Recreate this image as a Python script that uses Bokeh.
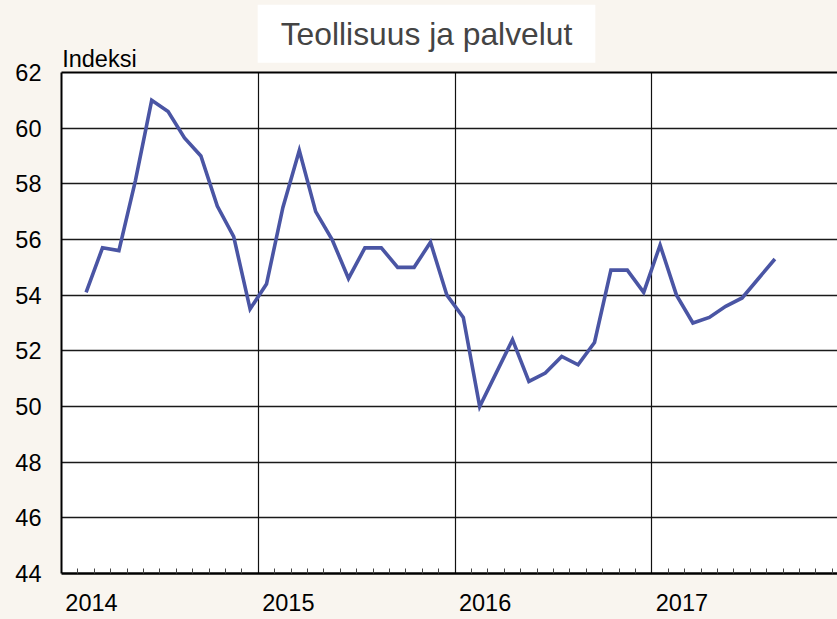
import pandas as pd
from bokeh.plotting import figure
from bokeh.layouts import column
from bokeh.models import (Range1d, FixedTicker, LinearAxis, Label, Grid,
                          ColumnDataSource, CustomJSTickFormatter)
from bokeh.embed import file_html
from bokeh.resources import INLINE

# ---- data ----
title_text = "Teollisuus ja palvelut"
y_label = "Indeksi"
years = ["2014", "2015", "2016", "2017"]
y_ticks = [44, 46, 48, 50, 52, 54, 56, 58, 60, 62]
months = pd.period_range("2014-02", "2017-08", freq="M")
values = [54.1, 55.7, 55.6, 58.1, 61.0, 60.6, 59.65, 59.0, 57.2, 56.1, 53.5,
          54.4, 57.15, 59.2, 57.0, 56.0, 54.6, 55.7, 55.7, 55.0, 55.0, 55.9, 54.0,
          53.2, 50.0, 51.2, 52.4, 50.9, 51.2, 51.8, 51.5, 52.3, 54.9, 54.9, 54.1,
          55.8, 54.0, 53.0, 53.2, 53.6, 53.9, 54.6, 55.3]

CREAM = "#f9f5ef"
LINE = "#4a55a4"
FONT = "Liberation Sans"

x = [(m.year - 2014) * 12 + (m.month - 1) + 0.5 for m in months]
src = ColumnDataSource(dict(x=x, y=values))

W, H = 837, 619
HEAD = 72                      # header strip (title + y label)
OVERLAP = 14                   # chart canvas overlaps the header strip
MONTH_PX = 16.4
LEFT, TOP, BOTTOM = 61, OVERLAP, 46
H_MAIN = H - HEAD + OVERLAP
frame_w = W - LEFT

# ---- header strip (frame aligned with the chart frame) ----
head = figure(width=W, height=HEAD, output_backend="svg", toolbar_location=None,
              x_range=Range1d(0, 1), y_range=Range1d(0, 1),
              x_axis_type=None, y_axis_type=None,
              min_border_left=LEFT, min_border_right=0, min_border_top=0,
              min_border_bottom=0, background_fill_color=CREAM,
              border_fill_color=CREAM, outline_line_color=None)
head.grid.visible = False

# screen units: origin at the frame's bottom-left corner, y upwards
head.add_layout(Label(x=0.7, y=HEAD - 58.4, x_units="screen", y_units="screen",
                      text=y_label, text_align="left", text_baseline="middle",
                      text_font=FONT, text_font_size="23.5px", text_color="black"))
head.add_layout(Label(x=426 - LEFT, y=HEAD - 33.3, x_units="screen", y_units="screen",
                      text=title_text, text_align="center", text_baseline="middle",
                      text_font=FONT, text_font_size="31.8px", text_color="#444444",
                      background_fill_color="white",
                      padding=dict(left=23, right=23, top=11, bottom=11)))

# ---- main chart (transparent border so the header shows through) ----
p = figure(width=W, height=H_MAIN, output_backend="svg", toolbar_location=None,
           x_range=Range1d(0, frame_w / MONTH_PX), y_range=Range1d(44, 62),
           x_axis_type=None, y_axis_type=None,
           min_border_left=LEFT, min_border_right=0, min_border_top=TOP,
           min_border_bottom=BOTTOM,
           background_fill_color="white", border_fill_color=None,
           outline_line_color=None)
p.styles = {"margin-top": "-%dpx" % OVERLAP}

p.add_layout(Grid(dimension=1, ticker=FixedTicker(ticks=y_ticks[1:-1]),
                  grid_line_color="#1a1a1a", grid_line_width=1.3))
p.add_layout(Grid(dimension=0, ticker=FixedTicker(ticks=[12, 24, 36]),
                  grid_line_color="#111111", grid_line_width=1.2))

yaxis = LinearAxis(ticker=FixedTicker(ticks=y_ticks),
                   axis_line_color="black", axis_line_width=2,
                   major_tick_in=0, major_tick_out=0,
                   minor_tick_line_color=None, major_tick_line_color=None,
                   major_label_standoff=20,
                   major_label_text_font=FONT,
                   major_label_text_font_size="23.5px",
                   major_label_text_color="black")
p.add_layout(yaxis, "left")

minor = [m for m in range(1, 48) if m % 12 != 0]
label_pos = [12 * k + 1.83 for k in range(len(years))]
xaxis = LinearAxis(ticker=FixedTicker(ticks=label_pos, minor_ticks=minor),
                   formatter=CustomJSTickFormatter(
                       args=dict(labels=years),
                       code="return labels[Math.floor(tick / 12)];"),
                   axis_line_color="black", axis_line_width=2.5,
                   major_tick_in=0, major_tick_out=0, major_tick_line_color=None,
                   minor_tick_in=5, minor_tick_out=0,
                   minor_tick_line_color="#444444", minor_tick_line_width=1,
                   major_label_standoff=20,
                   major_label_text_font=FONT,
                   major_label_text_font_size="23.5px",
                   major_label_text_color="black")
p.add_layout(xaxis, "below")

top_axis = LinearAxis(ticker=FixedTicker(ticks=[]),
                      axis_line_color="black", axis_line_width=2,
                      major_tick_line_color=None, minor_tick_line_color=None,
                      major_label_text_font_size="0px", major_label_standoff=0)
p.add_layout(top_axis, "above")

p.line("x", "y", source=src, line_color=LINE, line_width=3.6, line_join="miter")

layout = column(head, p, spacing=0, styles={"background-color": CREAM})
html = file_html(layout, INLINE)
html = html.replace("</head>",
                    "<style>html, body { background-color: %s; }</style></head>" % CREAM, 1)
open("out.html", "w").write(html)
